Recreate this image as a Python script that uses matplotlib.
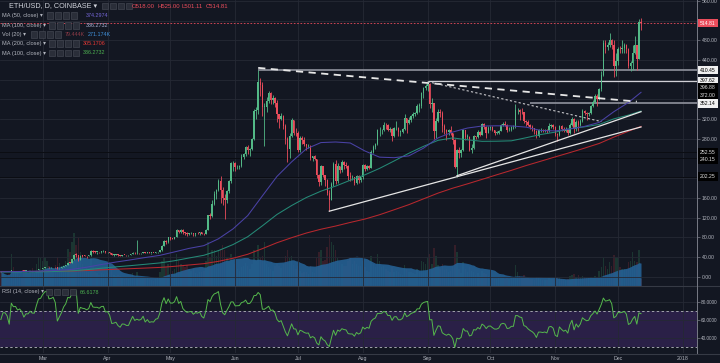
# -*- coding: utf-8 -*-
"""
ETH/USD daily candles (Coinbase, 2017) in TradingView dark style,
with moving averages, volume and RSI pane.
"""
import numpy as np
import pandas as pd
import matplotlib
matplotlib.use("Agg")
import matplotlib.pyplot as plt
import matplotlib.dates as mdates
from matplotlib.lines import Line2D
from matplotlib.patches import Rectangle

# ---------------------------------------------------------------- data
start_date = "2017-02-09"
first_open = 11.4          # open of the first candle, later opens = previous close

closes = [
    # Feb 9 - 28
    11.0, 11.4, 11.4, 11.3, 11.0, 13.1, 12.9, 12.95, 12.75, 12.9,
    12.75, 12.45, 12.8, 12.8, 13.1, 13.0, 13.0, 14.0, 15.5, 15.7,
    # Mar
    17.3, 19.1, 19.6, 18.9, 19.1, 19.7, 19.2, 16.8, 17.9, 19.2, 21.5, 23.2, 28.7, 28.6, 35.2,
    44.5, 44.4, 34.9, 43.0, 42.5, 42.3, 41.7, 43.2, 53.0, 50.5, 50.3, 50.4, 49.9, 52.1, 52.5, 49.9,
    # Apr
    50.3, 48.6, 44.2, 44.5, 45.1, 43.3, 42.4, 44.4, 44.3, 43.7, 43.7, 46.3, 49.1, 47.4, 48.2,
    47.8, 48.2, 50.1, 47.9, 49.3, 48.2, 48.5, 48.4, 49.8, 50.1, 53.2, 63.1, 72.4, 69.6, 79.8,
    # May
    77.5, 77.4, 80.2, 94.9, 90.3, 95.6, 90.2, 88.3, 87.0, 88.2, 88.6, 86.6, 89.0, 88.6, 90.4,
    87.5, 86.4, 95.7, 125.0, 123.2, 148.5, 168.3, 176.5, 194.8, 175.8, 159.5, 155.3, 174.1,
    194.6, 230.4, 230.8,
    # Jun
    222, 223, 224, 244, 249, 264, 257, 259, 280, 336, 339, 396, 390, 345, 345,
    357, 372, 358, 362, 353, 330, 321, 327, 305, 280, 259, 286, 318, 292, 291,
    # Jul
    258, 281, 277, 269, 265, 266, 240, 245, 238, 206, 193, 224, 206, 197, 170, 155,
    189, 228, 195, 225, 217, 232, 227, 225, 204, 202, 202, 190, 205, 197, 202,
    # Aug
    226, 218, 225, 221, 253, 264, 270, 297, 297, 298, 309, 307, 298, 299, 286, 301,
    302, 294, 294, 299, 322, 313, 318, 326, 330, 333, 347, 347, 372, 383, 388,
    # Sep
    391, 351, 352, 296, 316, 335, 333, 305, 298, 293, 297, 291, 277, 223, 257,
    252, 258, 297, 284, 284, 258, 261, 285, 283, 294, 288, 310, 304, 292, 302,
    # Oct
    303, 297, 292, 292, 295, 308, 311, 309, 297, 298, 303, 303, 338, 338, 335, 334,
    316, 314, 308, 304, 301, 296, 286, 297, 297, 296, 297, 295, 306, 307, 304,
    # Nov
    290, 287, 305, 300, 296, 298, 292, 309, 320, 299, 315, 307, 316, 337, 333,
    330, 332, 347, 355, 366, 360, 381, 410, 474, 466, 471, 481, 471, 428, 437,
    # Dec 1 - 12
    463, 462, 465, 471, 463, 428, 434, 455, 470, 441, 518, 514.81,
]

highs = [
    11.5, 11.5, 11.6, 11.5, 11.4, 13.3, 13.2, 13.1, 13.0, 13.0,
    12.95, 12.8, 12.9, 13.0, 13.3, 13.5, 13.2, 14.2, 15.8, 16.5,
    17.5, 19.5, 20.5, 19.7, 19.3, 19.9, 19.8, 19.3, 18.2, 19.9, 22.0, 23.8, 29.0, 30.0, 35.9,
    46.0, 48.0, 45.0, 44.5, 43.8, 44.0, 43.0, 44.0, 54.0, 54.5, 51.5, 51.0, 51.0, 53.0, 53.5, 53.0,
    51.0, 50.5, 48.8, 45.5, 45.8, 45.5, 43.8, 44.8, 44.8, 44.5, 44.2, 47.0, 50.0, 49.5, 75.0,
    48.5, 48.5, 50.5, 50.2, 49.8, 49.5, 49.0, 49.0, 50.2, 50.5, 54.0, 64.0, 74.0, 73.5, 81.0,
    80.5, 79.5, 81.0, 97.0, 95.5, 96.5, 96.5, 91.5, 90.0, 89.5, 90.0, 89.5, 89.5, 90.5, 91.0,
    91.0, 88.5, 97.0, 126.0, 130.0, 155.0, 175.0, 178.0, 198.0, 205.0, 182.0, 168.0, 176.0,
    197.0, 232.0, 235.0,
    232, 227, 226, 249, 252, 266, 267, 261, 281, 341, 344, 420, 404, 395, 352,
    365, 377, 375, 368, 364, 358, 330, 333, 329, 310, 283, 292, 322, 318, 301,
    296, 286, 285, 283, 270, 270, 267, 246, 248, 239, 208, 227, 224, 207, 199, 176,
    192, 233, 236, 230, 225, 236, 235, 232, 226, 212, 207, 202, 207, 206, 203,
    229, 228, 227, 226, 257, 268, 272, 300, 303, 300, 314, 313, 310, 303, 302, 304,
    316, 303, 298, 301, 330, 320, 325, 328, 334, 334, 350, 352, 375, 385, 392,
    397.6, 393, 362, 352, 322, 340, 340, 337, 310, 300, 300, 305, 292, 279, 260,
    263, 260, 300, 298, 290, 286, 270, 287, 286, 297, 296, 312, 313, 305, 305,
    305, 306, 298, 295, 298, 310, 314, 316, 310, 303, 305, 308, 350, 343, 340, 342,
    335, 318, 318, 310, 307, 302, 297, 300, 301, 300, 300, 299, 312, 310, 311,
    306, 292, 309, 307, 304, 304, 300, 313, 324, 322, 318, 318, 320, 340, 339,
    335, 335, 349, 359, 370, 371, 384, 418, 480, 480, 476, 495, 483, 480, 455,
    467, 468, 480, 474, 473, 465, 437, 470, 488, 470, 523, 525,
]

lows = [
    10.5, 10.9, 11.2, 11.2, 10.8, 11.0, 12.6, 12.7, 12.6, 12.6,
    12.5, 12.3, 12.4, 12.6, 12.8, 12.6, 12.8, 12.9, 14.0, 15.2,
    15.6, 17.2, 18.8, 18.3, 18.5, 18.9, 18.2, 16.3, 16.6, 17.5, 19.0, 21.3, 23.1, 27.0, 28.4,
    34.5, 40.5, 31.0, 34.0, 40.5, 41.0, 37.5, 41.0, 43.0, 48.0, 48.5, 47.0, 48.0, 48.0, 50.0, 49.0,
    48.5, 46.5, 43.5, 42.5, 43.5, 42.5, 41.5, 42.0, 43.5, 43.0, 43.0, 43.5, 46.0, 46.5, 47.0,
    47.0, 46.8, 47.8, 47.5, 47.5, 47.5, 46.5, 47.5, 48.0, 49.0, 49.8, 53.0, 62.0, 66.0, 69.0,
    74.0, 76.0, 76.5, 80.0, 88.0, 89.0, 87.5, 85.0, 83.0, 84.5, 86.0, 82.0, 82.5, 87.5, 85.0,
    86.0, 84.5, 86.0, 95.0, 118.0, 122.0, 146.0, 158.0, 175.0, 150.0, 145.0, 117.0, 150.0,
    170.0, 190.0, 215.0,
    215, 218, 218, 222, 238, 245, 250, 245, 257, 278, 320, 330, 366, 327, 265,
    335, 353, 350, 350, 345, 315, 302, 318, 300, 270, 232, 240, 283, 288, 285,
    253, 253, 270, 266, 257, 262, 236, 235, 236, 200, 185, 186, 202, 185, 166, 133,
    155, 185, 188, 190, 210, 212, 219, 220, 196, 194, 196, 186, 188, 190, 193,
    199, 215, 217, 218, 220, 252, 260, 268, 285, 290, 295, 300, 295, 294, 276, 284,
    298, 285, 285, 292, 298, 292, 311, 314, 323, 327, 331, 335, 342, 362, 380,
    378, 342, 335, 280, 282, 315, 325, 293, 290, 278, 288, 288, 270, 220, 202,
    242, 243, 255, 277, 280, 255, 252, 260, 279, 282, 285, 288, 300, 282, 291,
    297, 295, 288, 289, 289, 295, 305, 306, 293, 295, 296, 300, 302, 330, 318, 330,
    312, 305, 305, 300, 296, 289, 281, 284, 293, 294, 293, 292, 294, 302, 300,
    286, 276, 285, 296, 293, 294, 288, 290, 306, 292, 296, 296, 306, 315, 328,
    318, 327, 330, 344, 352, 347, 358, 378, 408, 455, 460, 466, 463, 405, 408,
    430, 455, 455, 455, 455, 424, 417, 420, 452, 420, 441, 501.11,
]

# daily volume, thousand ETH
volumes = [
    160, 150, 120, 110, 140, 380, 220, 180, 150, 120, 110, 160, 170, 150, 190, 210, 150, 260, 340, 330,
    300, 340, 300, 230, 170, 210, 250, 340, 270, 240, 250, 290, 440, 400, 520, 620, 480, 560, 400, 260,
    200, 210, 170, 330, 240, 160, 150, 130, 150, 140, 130,
    150, 140, 190, 130, 120, 130, 120, 90, 80, 90, 80, 120, 150, 110, 170, 100, 90, 100, 90, 90,
    80, 70, 60, 80, 90, 160, 300, 330, 220, 260,
    260, 180, 200, 380, 300, 260, 240, 220, 250, 200, 180, 200, 150, 140, 170, 160, 180, 300, 520, 330,
    420, 420, 350, 420, 440, 480, 420, 330, 300, 380, 310,
    260, 200, 180, 220, 240, 270, 230, 200, 260, 420, 300, 480, 330, 350, 520, 260, 220, 200, 180, 230,
    260, 240, 210, 260, 350, 420, 330, 350, 250, 200,
    230, 180, 150, 160, 170, 140, 240, 160, 150, 330, 400, 420, 300, 310, 460, 600, 520, 480, 420, 330,
    280, 260, 240, 230, 300, 330, 260, 300, 260, 240, 230,
    300, 220, 180, 160, 350, 260, 220, 380, 300, 220, 240, 200, 180, 160, 220, 170, 180, 160, 140, 130,
    250, 200, 170, 160, 150, 140, 200, 180, 300, 280, 260,
    330, 380, 260, 450, 350, 250, 200, 260, 190, 200, 170, 180, 230, 480, 400, 200, 150, 280, 200, 160,
    220, 180, 170, 130, 150, 120, 180, 150, 140, 120,
    100, 90, 80, 85, 90, 110, 95, 80, 90, 85, 95, 110, 250, 170, 120, 110, 130, 100, 90, 85,
    80, 75, 110, 90, 80, 70, 75, 65, 90, 80, 85,
    100, 110, 95, 80, 70, 75, 85, 120, 130, 140, 110, 130, 90, 120, 110, 95, 90, 110, 100, 120,
    110, 180, 220, 330, 240, 200, 280, 240, 360, 330,
    330, 220, 200, 200, 190, 280, 300, 400, 300, 280, 420, 79.444,
]

# closes Jan 26 - Feb 8, only used to start the RSI
warmup_closes = [10.55, 10.6, 10.5, 10.45, 10.6, 10.7, 10.8, 10.85, 11.25, 11.45, 11.2, 11.3, 11.5, 11.4]

# moving averages (weekly points)
ma_dates = [
    "2017-02-09", "2017-02-15", "2017-02-22", "2017-03-01", "2017-03-08", "2017-03-15", "2017-03-22",
    "2017-03-29", "2017-04-05", "2017-04-12", "2017-04-19", "2017-04-26", "2017-05-03", "2017-05-10",
    "2017-05-17", "2017-05-24", "2017-05-31", "2017-06-07", "2017-06-14", "2017-06-21", "2017-06-28",
    "2017-07-05", "2017-07-12", "2017-07-19", "2017-07-26", "2017-08-02", "2017-08-09", "2017-08-16",
    "2017-08-23", "2017-08-30", "2017-09-06", "2017-09-13", "2017-09-20", "2017-09-27", "2017-10-04",
    "2017-10-11", "2017-10-18", "2017-10-25", "2017-11-01", "2017-11-08", "2017-11-15", "2017-11-22",
    "2017-11-29", "2017-12-06", "2017-12-12",
]
ma50 = [10.0, 10.29, 10.90, 11.56, 12.81, 14.83, 19.21, 24.67, 29.74, 34.14, 38.92, 43.31, 50.34,
        57.50, 63.02, 76.92, 97.09, 124.06, 164.03, 203.67, 233.2, 259.5, 272.3, 273.5, 271.5, 255.3,
        242.7, 241.6, 245.3, 260.9, 281.9, 293.7, 301.8, 305.9, 306.4, 306.1, 303.7, 296.9, 296.0,
        299.9, 305.2, 313.3, 335.0, 353.7, 374.3]
ma100 = [9.5, 9.51, 9.67, 9.98, 10.71, 11.86, 14.22, 17.16, 19.99, 22.46, 25.17, 27.97, 32.43,
         38.05, 43.45, 52.95, 65.28, 81.11, 103.28, 126.39, 144.54, 160.71, 173.64, 183.92, 195.78,
         206.79, 219.88, 235.01, 250.59, 264.6, 276.87, 281.8, 277.94, 274.85, 275.09, 275.88,
         282.07, 288.65, 293.5, 300.52, 304.25, 309.09, 320.45, 328.09, 336.27]
ma200 = [10.55, 10.56, 10.59, 10.72, 10.99, 11.48, 12.56, 13.90, 15.15, 16.26, 17.52, 18.83, 21.01,
         23.77, 26.43, 31.20, 37.46, 45.52, 56.92, 69.01, 79.21, 88.60, 96.38, 102.81, 110.15,
         116.99, 125.77, 135.89, 146.23, 158.02, 169.74, 179.74, 188.44, 197.58, 206.86, 215.88,
         225.55, 234.38, 243.25, 251.97, 261.0, 270.51, 283.38, 295.35, 305.17]

# drawings on the chart: (date, price)
resistance_main = [("2017-06-12", 424.0), ("2017-12-10", 355.5)]
resistance_sep = [("2017-09-01", 396.0), ("2017-11-23", 315.0)]
support_low = [("2017-07-16", 133.0), ("2017-12-12", 304.0)]
support_high = [("2017-09-15", 205.0), ("2017-12-12", 335.0)]
ray_levels = [419.5, 397.62, 352.14]
ray_starts = ["2017-06-12", "2017-09-01", "2017-10-20"]
dark_levels = [252.55, 240.15, 202.25]

# price tags on the right scale
tag_texts = ["514.81", "410.45", "397.62", "396.88", "372.00", "352.14", "252.55", "240.15", "202.25"]
tag_levels = [514.81, 419.5, 397.62, 383.8, 368.3, 352.14, 252.55, 238.4, 203.0]
tag_kinds = ["last", "white", "white", "black", "black", "white", "black", "black", "black"]

month_ticks = ["2017-03-01", "2017-04-01", "2017-05-01", "2017-06-01", "2017-07-01", "2017-08-01",
               "2017-09-01", "2017-10-01", "2017-11-01", "2017-12-01", "2018-01-01"]
month_labels = ["Mar", "Apr", "May", "Jun", "Jul", "Aug", "Sep", "Oct", "Nov", "Dec", "2018"]
price_ticks = list(range(0, 561, 40))
price_hidden = [200, 240, 360, 400, 520]
rsi_ticks = [40, 60, 80]

ohlc_texts = ["O518.00", "H525.00", "L501.11", "C514.81"]

# ---------------------------------------------------------------- style
BG = "#131722"
GRID = "#252935"
TXT = "#b2b5be"
UP = "#53b987"
DOWN = "#eb4d5c"
W, H = 720, 363

plt.rcParams['font.family'] = ['Liberation Sans', 'DejaVu Sans']

closes_a = np.array(closes, float)
highs_a = np.array(highs, float)
lows_a = np.array(lows, float)
opens_a = np.concatenate([[first_open], closes_a[:-1]])
vol_a = np.array(volumes, float)
assert len(closes_a) == len(highs_a) == len(lows_a) == len(vol_a), \
    (len(closes_a), len(highs_a), len(lows_a), len(vol_a))

dates = pd.date_range(start_date, periods=len(closes_a), freq="D")
x = mdates.date2num(dates)
ma_x = mdates.date2num(pd.to_datetime(ma_dates))


def dn(s):
    return mdates.date2num(pd.Timestamp(s))


# RSI (14) Wilder
all_c = pd.Series(warmup_closes + list(closes_a))
delta = all_c.diff()
gain = delta.clip(lower=0).ewm(alpha=1 / 14, adjust=False).mean()
loss = (-delta.clip(upper=0)).ewm(alpha=1 / 14, adjust=False).mean()
rsi = (100 - 100 / (1 + gain / loss)).iloc[len(warmup_closes):].to_numpy()

vol_ma = pd.Series(vol_a).rolling(20, min_periods=1).mean().to_numpy()

# ---------------------------------------------------------------- figure
fig = plt.figure(figsize=(7.2, 3.63), dpi=100, facecolor=BG)
rect_main = [0, 1 - 286 / H, 697 / W, 286 / H]
rect_rsi = [0, 1 - 353 / H, 697 / W, (353 - 286) / H]
ax_vol = fig.add_axes(rect_main)
ax = fig.add_axes(rect_main, sharex=ax_vol)
ax_rsi = fig.add_axes(rect_rsi, sharex=ax_vol)
ax.set_zorder(2)
ax.patch.set_visible(False)
ax_vol.set_facecolor(BG)
ax_rsi.set_facecolor(BG)

mar1 = dn("2017-03-01")
px_day = 2.092
ax.set_xlim(mar1 - 42.7 / px_day, mar1 + (697 - 42.7) / px_day)

# volume
up = closes_a >= opens_a
vcol = np.where(up, "#2f7d55", "#8a2f3c")
ax_vol.bar(x, vol_a, width=0.7, color=vcol, alpha=0.3, lw=0)
ax_vol.fill_between(x, vol_ma, 0, color="#25649a", alpha=0.85, lw=0)
ax_vol.set_ylim(0, 3370)
ax_vol.tick_params(left=False, labelleft=False, bottom=False, labelbottom=False)
for s in ax_vol.spines.values():
    s.set_visible(False)

# grid
month_x = [dn(m) for m in month_ticks]
ax.set_xticks(month_x)
ax.set_yticks(price_ticks)
ax.set_yticklabels(["" if v in price_hidden else f"{v:.2f}" for v in price_ticks])
ax.set_ylim(-18.9, 561.8)
ax.grid(True, color=GRID, lw=0.6)
ax.set_axisbelow(True)
ax.yaxis.tick_right()
ax.tick_params(axis="y", labelcolor=TXT, color="#787b86", labelsize=3.7, length=2.5, width=0.5, pad=1.2)
ax.tick_params(axis="x", length=0, labelbottom=False)
for k, s in ax.spines.items():
    s.set_visible(k == "right")
ax.spines["right"].set_color("#787b86")
ax.spines["right"].set_linewidth(0.7)

# drawings under the candles
for lvl in dark_levels:
    ax.axhline(lvl, color="#0b0d13", lw=0.7, zorder=1)
xmax = ax.get_xlim()[1]
ray_styles = [("#868993", 1.3), ("#d0d0d6", 0.9), ("#868993", 1.3)]
for lvl, st, (col, lw) in zip(ray_levels, ray_starts, ray_styles):
    ax.hlines(lvl, dn(st), xmax, color=col, lw=lw, zorder=2)
ax.axhline(514.81, color=DOWN, lw=0.6, ls=(0, (2, 2)), zorder=2)

# candles
lo_b = np.minimum(opens_a, closes_a)
hi_b = np.maximum(opens_a, closes_a)
body = np.maximum(hi_b - lo_b, 1.0)
hi_w = np.maximum(highs_a, hi_b)
lo_w = np.minimum(lows_a, lo_b)
for mask, col in ((up, UP), (~up, DOWN)):
    ax.vlines(x[mask], lo_w[mask], hi_w[mask], color=col, lw=0.6, zorder=4)
    ax.bar(x[mask], body[mask], bottom=lo_b[mask], width=0.68, color=col, lw=0, zorder=5)

# moving averages
ax.plot(ma_x, ma200, color="#b8282e", lw=0.75, zorder=6)
ax.plot(ma_x, ma100, color="#258a77", lw=0.75, zorder=6)
ax.plot(ma_x, ma50, color="#4a42a6", lw=0.75, zorder=6)

# trend lines


def seg(pts, **kw):
    ax.plot([dn(pts[0][0]), dn(pts[1][0])], [pts[0][1], pts[1][1]], zorder=7, **kw)


seg(resistance_main, color="#e6e6e6", lw=1.3, ls=(0, (4, 3)))
seg(resistance_sep, color="#c8c8cc", lw=0.8, ls=(0, (2, 2)))
seg(support_low, color="#e6e6e6", lw=0.9)
seg(support_high, color="#e6e6e6", lw=0.9)

# price tags
tag_style = {"last": (DOWN, "white"), "white": ("#f0f0f0", "black"), "black": ("#000000", "#e0e0e0")}
for txt, lvl, kind in zip(tag_texts, tag_levels, tag_kinds):
    fc, tc = tag_style[kind]
    ax.annotate(txt, xy=(1, lvl), xycoords=("axes fraction", "data"), xytext=(2.2, 0),
                textcoords="offset points", ha="left", va="center", fontsize=3.7, color=tc,
                bbox=dict(boxstyle="square,pad=0.35", fc=fc, ec="none"), annotation_clip=False, zorder=10)

# RSI pane
ax_rsi.axhspan(30, 70, color="#2a2047", lw=0, zorder=0)
ax_rsi.plot(x, rsi, color="#55b84c", lw=0.7, zorder=3)
for lvl in (70, 30):
    ax_rsi.axhline(lvl, color="#a0a3ab", lw=0.7, ls=(0, (2.5, 2.5)), zorder=2)
ax_rsi.set_ylim(23.0, 97.4)
ax_rsi.set_yticks(rsi_ticks)
ax_rsi.set_yticklabels([f"{v:.4f}" for v in rsi_ticks])
ax_rsi.yaxis.tick_right()
ax_rsi.grid(True, color=GRID, lw=0.6)
ax_rsi.set_axisbelow(True)
ax_rsi.set_xticklabels(month_labels)
ax_rsi.tick_params(axis="y", labelcolor=TXT, color="#787b86", labelsize=3.4, length=2.0, width=0.5, pad=1.0)
ax_rsi.tick_params(axis="x", labelcolor=TXT, labelsize=3.8, length=0, pad=2.3)
for k, s in ax_rsi.spines.items():
    s.set_visible(k == "right")
ax_rsi.spines["right"].set_color("#787b86")
ax_rsi.spines["right"].set_linewidth(0.7)

# pane separators
for py in (286, 353.5):
    fig.add_artist(Line2D([0, 1], [1 - py / H] * 2, color="#363a45", lw=0.8))

# ---------------------------------------------------------------- legends


def ftext(px, py, s, color, size, **kw):
    fig.text(px / W, 1 - py / H, s, color=color, fontsize=size, va="center", ha="left", zorder=12, **kw)


def boxes(px, py, n=4):
    for i in range(n):
        fig.add_artist(Rectangle(((px + i * 8) / W, 1 - (py + 3.2) / H), 6.4 / W, 6.4 / H,
                                 transform=fig.transFigure, fc="#2a2e39", ec="#4a4e59", lw=0.4, zorder=11))


ftext(9, 6, "ETH/USD, D, COINBASE \u25be", "#d1d4dc", 5.2)
boxes(102, 6)
for px, t in zip([132, 157, 182, 206], ohlc_texts):
    ftext(px, 6, t, DOWN, 4.3)

legend_rows = [
    (15.7, "MA (50, close) \u25be", 47, [(86, "374.2974", "#7466d6")]),
    (25.3, "MA (100, close) \u25be", 49, [(86, "336.2732", "#a9b3d6")]),
    (34.3, "Vol (20) \u25be", 31, [(65, "79.444K", "#8e3b47"), (88, "271.174K", "#3f8fd8")]),
    (43.7, "MA (200, close) \u25be", 49, [(83, "305.1706", "#e53935")]),
    (53.0, "MA (100, close) \u25be", 49, [(83, "336.2732", "#4caf50")]),
]
for py, name, bx, vals in legend_rows:
    ftext(2, py, name, TXT, 4.1)
    boxes(bx, py)
    for px, t, c in vals:
        ftext(px, py, t, c, 3.9)

ftext(2, 292, "RSI (14, close) \u25be", TXT, 4.1)
boxes(46, 292)
ftext(80, 292, "66.6178", "#4caf50", 3.9)

fig.savefig("out.png", dpi=100, facecolor=BG)
